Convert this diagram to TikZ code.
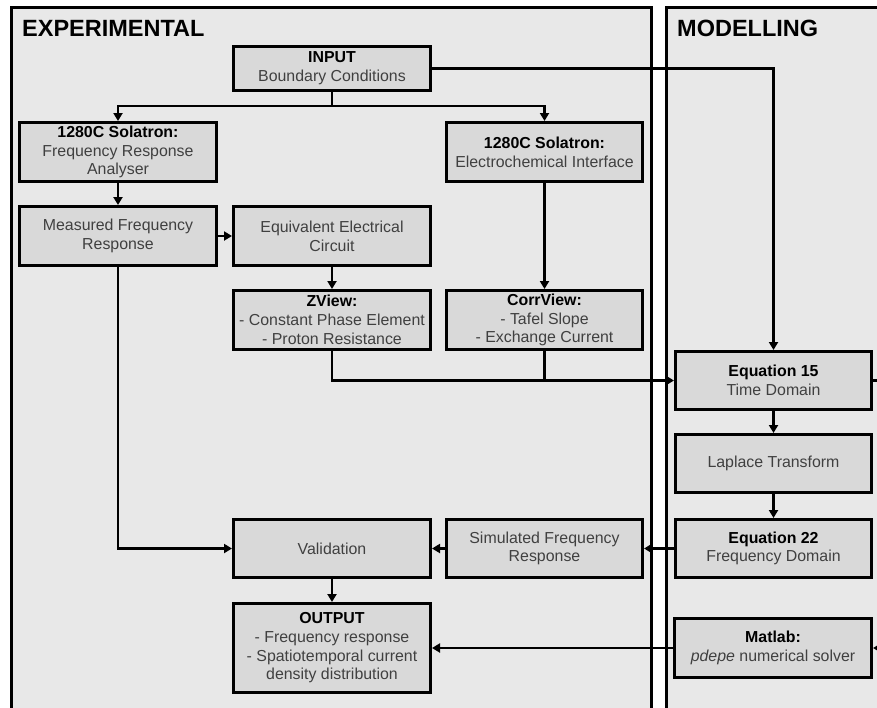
\documentclass[tikz,border=0pt]{standalone}
\usepackage{fontspec}
\setmainfont{Liberation Sans}
\usetikzlibrary{arrows.meta,calc}
\definecolor{panelgray}{HTML}{E8E8E8}
\definecolor{boxgray}{HTML}{D9D9D9}
\definecolor{txtgray}{HTML}{404040}
\newcommand\hd[1]{{\color{black}\bfseries #1}}
\newcommand\mybox[6]{%
  \node[box, minimum width={#4-#2-2.6pt}, minimum height={#5-#3-2.6pt}] (#1) at ({(#2+#4)/2},{(#3+#5)/2}) {#6};}
\tikzset{
  box/.style={draw=black, line width=2.6pt, fill=boxgray, align=center, inner sep=0pt,
    text=txtgray, font=\fontsize{15.9}{18.7}\selectfont},
  panel/.style={draw=black, line width=3pt, fill=panelgray},
  ln/.style={line width=2.4pt, draw=black},
  arr/.style={ln, -{Triangle[length=8pt,width=9pt]}},
  ttl/.style={anchor=base west, font=\fontsize{23.5}{27}\selectfont\bfseries, inner sep=0pt}
}
\begin{document}
\begin{tikzpicture}[x=1pt,y=-1pt]
\useasboundingbox (0,0) rectangle (877,707);
\clip (0,0) rectangle (877,707);
\fill[white] (0,0) rectangle (877,707);
\draw[panel] (11,7) rectangle (651,730);
\draw[panel] (666,7) rectangle (900,730);
\node[ttl] (t1) at (22,36) {EXPERIMENTAL};
\node[ttl] (t2) at (677,36) {MODELLING};
% boxes
\mybox{input}{232}{45}{432}{92}{\hd{INPUT}\\Boundary Conditions}
\mybox{fra}{18}{121}{218}{183}{\hd{1280C Solatron:}\\Frequency Response\\Analyser}
\mybox{ei}{445}{121}{644}{183}{\hd{1280C Solatron:}\\Electrochemical Interface}
\mybox{meas}{18}{205}{218}{267}{Measured Frequency\\Response}
\mybox{eec}{232}{205}{432}{267}{Equivalent Electrical\\Circuit}
\mybox{zview}{232}{289}{432}{351}{\hd{ZView:}\\- Constant Phase Element\\- Proton Resistance}
\mybox{corr}{445}{289}{644}{351}{\hd{CorrView:}\\- Tafel Slope\\- Exchange Current}
\mybox{eq15}{674}{350}{873}{411}{\hd{Equation 15}\\Time Domain}
\mybox{lap}{674}{433}{873}{494}{Laplace Transform}
\mybox{eq22}{674}{518}{873}{579}{\hd{Equation 22}\\Frequency Domain}
\mybox{sim}{445}{518}{644}{579}{Simulated Frequency\\Response}
\mybox{val}{232}{518}{432}{579}{Validation}
\mybox{out}{232}{602}{432}{694}{\hd{OUTPUT}\\- Frequency response\\- Spatiotemporal current\\density distribution}
\mybox{mat}{673}{617}{873}{679}{\hd{Matlab:}\\\textit{pdepe} numerical solver}
% connectors
\coordinate (j1) at (332,106);
\draw[ln] (input.south) -- (j1);
\draw[arr] (j1) -| (fra.north);
\draw[arr] (j1) -| (ei.north);
\draw[arr] (input.east) -| (eq15.north);
\draw[arr] (fra.south) -- (meas.north);
\draw[arr] (meas.east) -- (eec.west);
\draw[arr] (eec.south) -- (zview.north);
\draw[arr] (ei.south) -- (corr.north);
\draw[ln] (corr.south) -- (corr.south |- eq15.west);
\draw[arr] (zview.south) |- (eq15.west);
\draw[arr] (eq15.south) -- (lap.north);
\draw[arr] (lap.south) -- (eq22.north);
\draw[arr] (eq22.west) -- (sim.east);
\draw[arr] (sim.west) -- (val.east);
\draw[arr] (meas.south) |- (val.west);
\draw[arr] (val.south) -- (out.north);
\draw[arr] (mat.west) -- (out.east);
\coordinate (r1) at (880,380.5);
\draw[ln] (eq15.east) -- (r1);
\coordinate (r2) at (885,648);
\draw[arr] (r2) -- (mat.east);
\end{tikzpicture}
\end{document}
